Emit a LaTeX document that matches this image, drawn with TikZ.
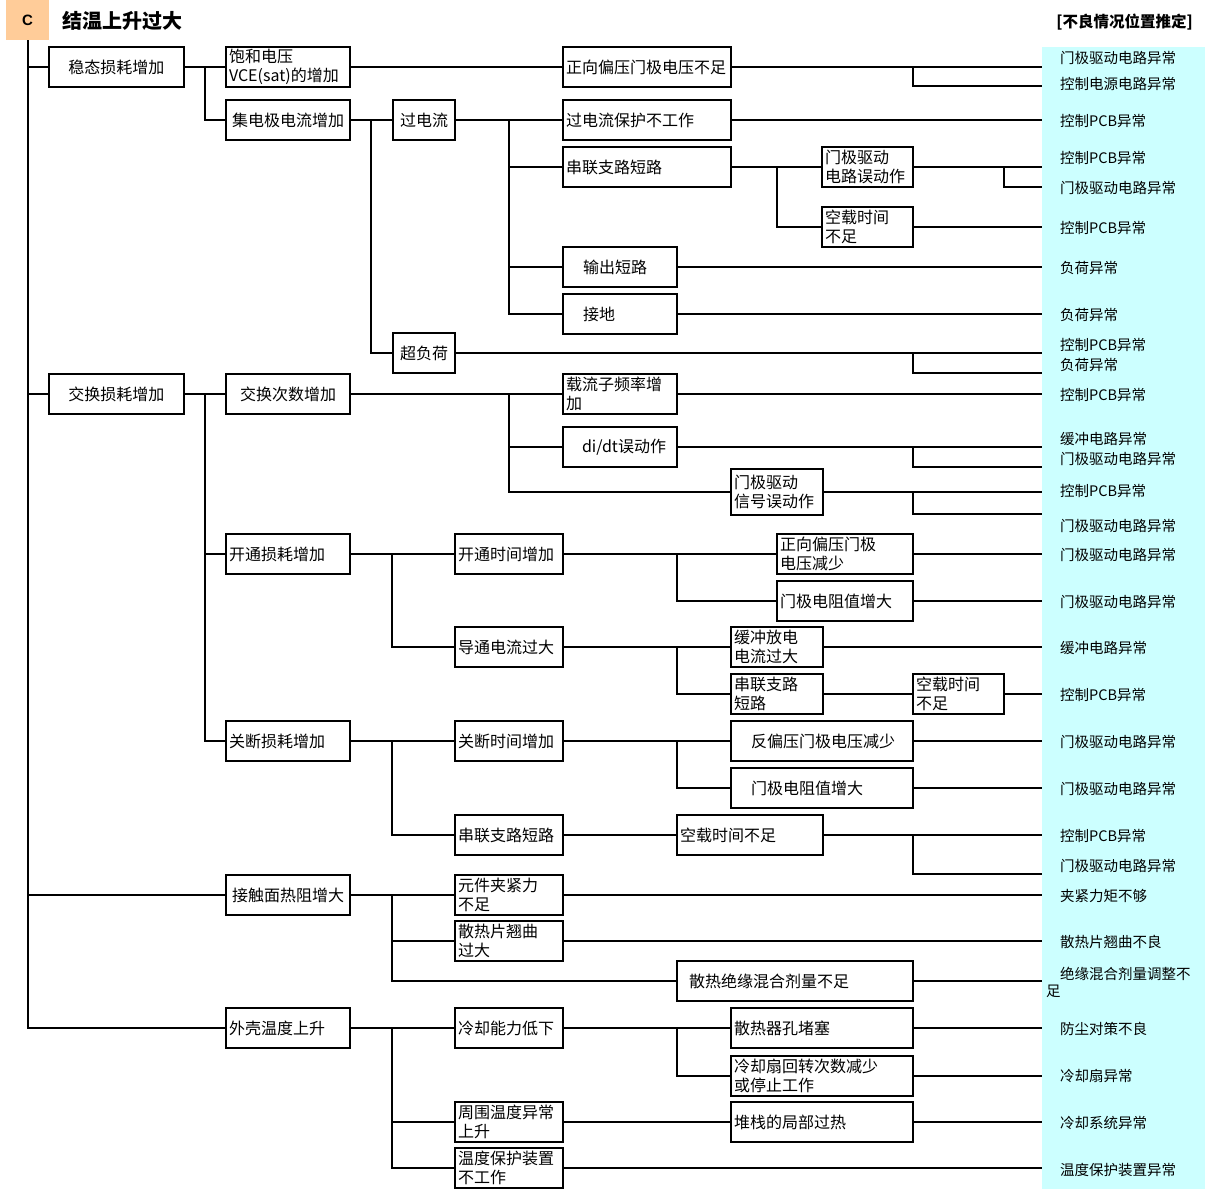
\documentclass[tikz,border=0pt]{standalone}
\usepackage{fontspec}
\setmainfont{Noto Sans CJK SC}
\newfontfamily\latinsans{Liberation Sans}
\definecolor{peach}{RGB}{255,204,153}
\definecolor{panelcyan}{RGB}{204,255,255}
\tikzset{
  bx/.style={draw=black, line width=2.2pt, fill=white, inner xsep=3pt, inner ysep=0pt, outer sep=0pt,
    font=\fontsize{16}{19.5}\selectfont},
  ln/.style={line width=2pt},
  lab/.style={anchor=west, inner sep=0pt, font=\fontsize{14.5}{17}\selectfont},
}
\newcommand\bx[7][align=left]{%
  \pgfmathsetmacro\bxw{#5-#3-6}%
  \pgfmathsetmacro\bxh{#6-#4}%
  \node[bx,#1,anchor=north west,text width=\bxw pt,minimum height=\bxh pt] (#2) at (#3,#4) {#7};}
\newcommand\topanel[1]{\draw[ln] (#1.east) -- (#1.east -| panel.west);}
\newcommand\forkp[4]{%
  \coordinate (#2) at (#3,#4);
  \draw[ln] (#1.east -| #2) |- (#2 -| panel.west);}
\begin{document}
\begin{tikzpicture}[x=1pt,y=-1pt]
\useasboundingbox (0,0) rectangle (1205,1189);
\fill[white] (0,0) rectangle (1205,1189);
% header
\node[fill=peach, anchor=north west, minimum width=43pt, minimum height=40pt, inner sep=0pt, outer sep=0pt,
  font=\latinsans\bfseries\fontsize{15}{18}\selectfont] (cbox) at (6,0) {C};
\node[anchor=west, inner sep=0pt, font=\fontsize{20}{24}\selectfont\bfseries] (title) at (62,21) {结温上升过大};
\node[anchor=east, inner sep=0pt, font=\fontsize{15.5}{18}\selectfont\bfseries] (hdr) at (1193,22) {[不良情况位置推定]};
% cyan panel
\node[fill=panelcyan, anchor=north west, minimum width=163pt, minimum height=1142pt, inner sep=0pt, outer sep=0pt] (panel) at (1042,47) {};

% ---------- boxes ----------
\bx[align=center]{wt}{49}{47}{184}{87}{稳态损耗增加}
\bx[align=center]{jh}{49}{374}{184}{414}{交换损耗增加}

\bx{bh}{226}{47}{350}{87}{饱和电压\\VCE(sat)的增加}
\bx[align=center]{jdj}{226}{100}{350}{140}{集电极电流增加}
\bx[align=center]{jc}{226}{374}{350}{414}{交换次数增加}
\bx{kt}{226}{534}{350}{574}{开通损耗增加}
\bx{gd}{226}{721}{350}{761}{关断损耗增加}
\bx[align=center]{jc2}{226}{875}{350}{915}{接触面热阻增大}
\bx{wk}{226}{1008}{350}{1048}{外壳温度上升}

\bx[align=center]{gdl}{393}{100}{455}{140}{过电流}
\bx[align=center]{cfh}{393}{333}{455}{373}{超负荷}

\bx{zx}{563}{47}{731}{87}{正向偏压门极电压不足}
\bx{gbh}{563}{100}{731}{140}{过电流保护不工作}
\bx{clA}{563}{147}{731}{187}{串联支路短路}
\bx{mj}{822}{147}{913}{187}{门极驱动\\电路误动作}
\bx{kz1}{822}{207}{913}{247}{空载时间\\不足}
\bx{sc}{563}{247}{677}{287}{\hspace*{17pt}输出短路}
\bx{jd}{563}{294}{677}{334}{\hspace*{17pt}接地}

\bx{zl}{563}{374}{677}{414}{载流子频率增\\加}
\bx{didt}{563}{427}{677}{467}{\hspace*{16pt}di/dt误动作}
\bx{mx}{731}{469}{823}{515}{门极驱动\\信号误动作}

\bx{ktsj}{455}{534}{563}{574}{开通时间增加}
\bx{dt}{455}{627}{563}{667}{导通电流过大}
\bx{zxj}{777}{534}{913}{574}{正向偏压门极\\电压减少}
\bx{mdz1}{777}{581}{913}{621}{门极电阻值增大}
\bx{hc}{731}{627}{823}{667}{缓冲放电\\电流过大}
\bx{cl2}{731}{674}{823}{714}{串联支路\\短路}
\bx{kz2}{913}{674}{1004}{714}{空载时间\\不足}

\bx{gdsj}{455}{721}{563}{761}{关断时间增加}
\bx{cl3}{455}{815}{563}{855}{串联支路短路}
\bx{fp}{731}{721}{913}{761}{\hspace*{17pt}反偏压门极电压减少}
\bx{mdz2}{731}{768}{913}{808}{\hspace*{17pt}门极电阻值增大}
\bx{kz3}{677}{815}{823}{855}{空载时间不足}

\bx{yj}{455}{875}{563}{915}{元件夹紧力\\不足}
\bx{sr}{455}{921}{563}{961}{散热片翘曲\\过大}
\bx{jy}{677}{961}{913}{1001}{\hspace*{9pt}散热绝缘混合剂量不足}

\bx{lq}{455}{1008}{563}{1048}{冷却能力低下}
\bx{zw}{455}{1102}{563}{1142}{周围温度异常\\上升}
\bx{wb}{455}{1148}{563}{1188}{温度保护装置\\不工作}
\bx{sk}{731}{1008}{913}{1048}{散热器孔堵塞}
\bx{lqs}{731}{1056}{913}{1096}{冷却扇回转次数减少\\或停止工作}
\bx{dz}{731}{1102}{913}{1142}{堆栈的局部过热}

% ---------- connectors ----------
% trunk
\draw[ln] (cbox.south) |- (wk.west);
\draw[ln] (cbox.south |- wt.west) -- (wt.west);
\draw[ln] (cbox.south |- jh.west) -- (jh.west);
\draw[ln] (cbox.south |- jc2.west) -- (jc2.west);

% steady-state loss
\draw[ln] (wt.east) -- (bh.west);
\coordinate (a1) at (205,67);
\draw[ln] (a1) |- (jdj.west);
\draw[ln] (bh.east) -- (zx.west);
\draw[ln] (jdj.east) -- (gdl.west);
\coordinate (a2) at (371,120);
\draw[ln] (a2) |- (cfh.west);
\draw[ln] (gdl.east) -- (gbh.west);
\coordinate (a3) at (509,120);
\draw[ln] (a3) |- (clA.west);
\draw[ln] (a3) |- (sc.west);
\draw[ln] (a3) |- (jd.west);
\draw[ln] (clA.east) -- (mj.west);
\coordinate (a4) at (777,167);
\draw[ln] (a4) |- (kz1.west);

\topanel{zx}  \forkp{zx}{f1}{913}{86}
\topanel{gbh}
\topanel{mj}  \forkp{mj}{f2}{1004}{187}
\topanel{kz1}
\topanel{sc}
\topanel{jd}
\topanel{cfh} \forkp{cfh}{f3}{913}{373}

% switching loss
\draw[ln] (jh.east) -- (jc.west);
\coordinate (b1) at (205,394);
\draw[ln] (b1) |- (kt.west);
\draw[ln] (b1) |- (gd.west);
\draw[ln] (jc.east) -- (zl.west);
\coordinate (b2) at (509,394);
\draw[ln] (b2) |- (didt.west);
\draw[ln] (b2) |- (mx.west);
\topanel{zl}
\topanel{didt} \forkp{didt}{f4}{913}{467}
\topanel{mx}   \forkp{mx}{f5}{913}{514}

% turn-on loss
\draw[ln] (kt.east) -- (ktsj.west);
\coordinate (c1) at (392,554);
\draw[ln] (c1) |- (dt.west);
\draw[ln] (ktsj.east) -- (zxj.west);
\coordinate (c2) at (677,554);
\draw[ln] (c2) |- (mdz1.west);
\draw[ln] (dt.east) -- (hc.west);
\coordinate (c3) at (677,647);
\draw[ln] (c3) |- (cl2.west);
\draw[ln] (cl2.east) -- (kz2.west);
\topanel{zxj}
\topanel{mdz1}
\topanel{hc}
\topanel{kz2}

% turn-off loss
\draw[ln] (gd.east) -- (gdsj.west);
\coordinate (d1) at (392,741);
\draw[ln] (d1) |- (cl3.west);
\draw[ln] (gdsj.east) -- (fp.west);
\coordinate (d2) at (677,741);
\draw[ln] (d2) |- (mdz2.west);
\draw[ln] (cl3.east) -- (kz3.west);
\topanel{fp}
\topanel{mdz2}
\topanel{kz3} \forkp{kz3}{f6}{913}{874}

% contact thermal resistance
\draw[ln] (jc2.east) -- (yj.west);
\coordinate (e1) at (392,895);
\draw[ln] (e1) |- (sr.west);
\draw[ln] (e1) |- (jy.west);
\topanel{yj}
\topanel{sr}
\topanel{jy}

% case temperature
\draw[ln] (wk.east) -- (lq.west);
\coordinate (g1) at (392,1028);
\draw[ln] (g1) |- (zw.west);
\draw[ln] (g1) |- (wb.west);
\draw[ln] (lq.east) -- (sk.west);
\coordinate (g2) at (677,1028);
\draw[ln] (g2) |- (lqs.west);
\draw[ln] (zw.east) -- (dz.west);
\topanel{sk}
\topanel{lqs}
\topanel{dz}
\topanel{wb}

% ---------- right labels ----------
\node[lab] (r1) at (1060,58) {门极驱动电路异常};
\node[lab] (r2) at (1060,84) {控制电源电路异常};
\node[lab] (r3) at (1060,121) {控制PCB异常};
\node[lab] (r4) at (1060,158) {控制PCB异常};
\node[lab] (r5) at (1060,188) {门极驱动电路异常};
\node[lab] (r6) at (1060,228) {控制PCB异常};
\node[lab] (r7) at (1060,268) {负荷异常};
\node[lab] (r8) at (1060,315) {负荷异常};
\node[lab] (r9) at (1060,345) {控制PCB异常};
\node[lab] (r10) at (1060,365) {负荷异常};
\node[lab] (r11) at (1060,395) {控制PCB异常};
\node[lab] (r12) at (1060,439) {缓冲电路异常};
\node[lab] (r13) at (1060,459) {门极驱动电路异常};
\node[lab] (r14) at (1060,491) {控制PCB异常};
\node[lab] (r15) at (1060,526) {门极驱动电路异常};
\node[lab] (r16) at (1060,555) {门极驱动电路异常};
\node[lab] (r17) at (1060,602) {门极驱动电路异常};
\node[lab] (r18) at (1060,648) {缓冲电路异常};
\node[lab] (r19) at (1060,695) {控制PCB异常};
\node[lab] (r20) at (1060,742) {门极驱动电路异常};
\node[lab] (r21) at (1060,789) {门极驱动电路异常};
\node[lab] (r22) at (1060,836) {控制PCB异常};
\node[lab] (r23) at (1060,866) {门极驱动电路异常};
\node[lab] (r24) at (1060,896) {夹紧力矩不够};
\node[lab] (r25) at (1060,942) {散热片翘曲不良};
\node[lab, anchor=north west, align=left] (r26) at (1046,967) {\hspace*{14pt}绝缘混合剂量调整不\\足};
\node[lab] (r27) at (1060,1029) {防尘对策不良};
\node[lab] (r28) at (1060,1076) {冷却扇异常};
\node[lab] (r29) at (1060,1123) {冷却系统异常};
\node[lab] (r30) at (1060,1170) {温度保护装置异常};
\end{tikzpicture}
\end{document}
